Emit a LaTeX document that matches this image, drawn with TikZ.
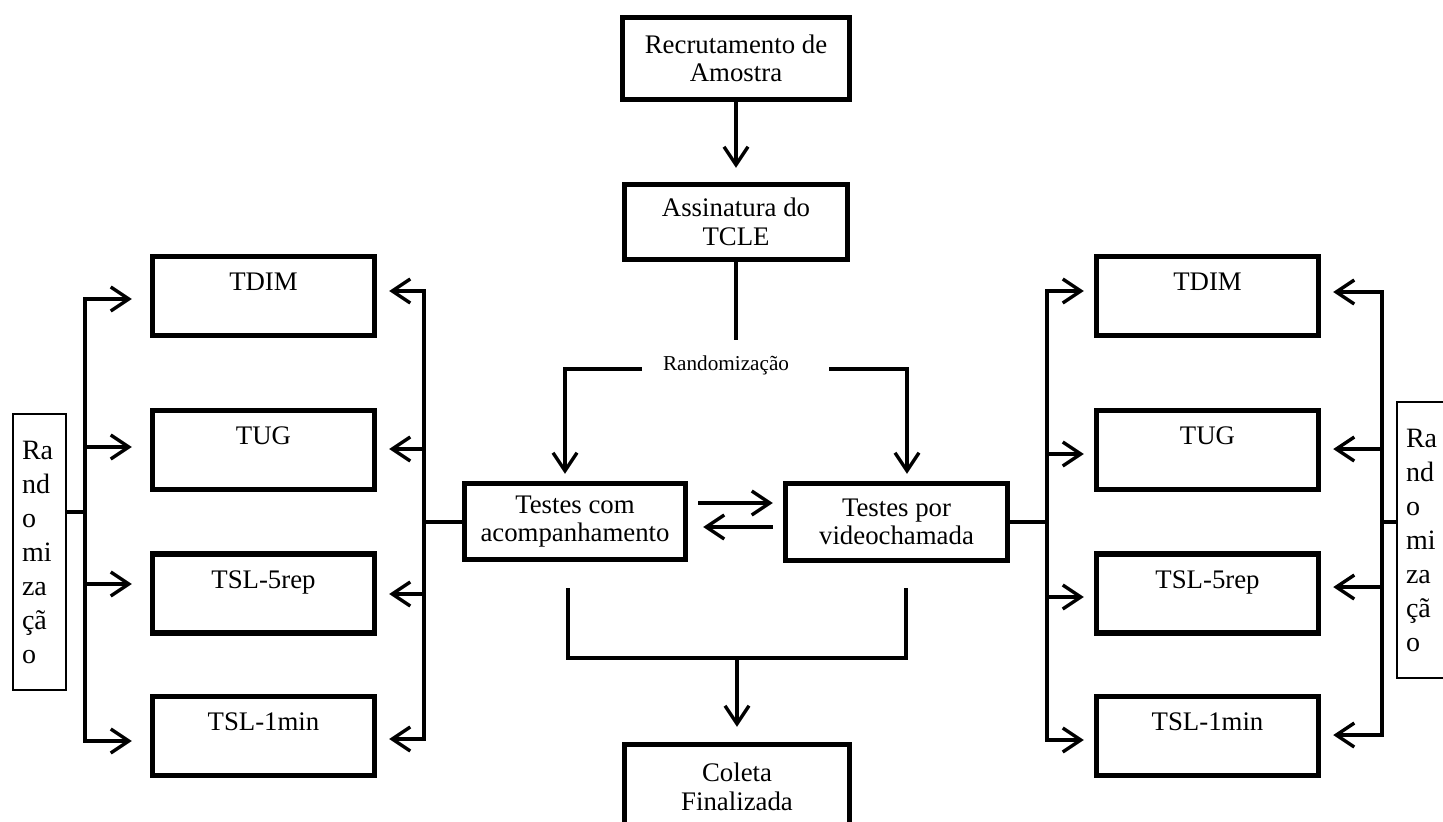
\documentclass[tikz,border=0pt]{standalone}
\usepackage{fontspec}
\setmainfont{Liberation Serif}
\usetikzlibrary{arrows.meta}
\begin{document}
\begin{tikzpicture}[x=0.5pt,y=-0.5pt,
  flowbox/.style={draw, line width=2.7pt, align=center, inner sep=0pt,
    font=\fontsize{13.4}{14.2}\selectfont},
  testbox/.style={flowbox, minimum width=111pt, minimum height=39.5pt},
  randbox/.style={draw, line width=1.1pt, minimum width=26.5pt, minimum height=138pt,
    text width=17.5pt, inner xsep=4.5pt, inner ysep=0pt, align=left,
    font=\fontsize{14}{17}\selectfont},
  conn/.style={line width=1.7pt},
  arr/.style={conn, -{Straight Barb[length=9pt,width=12pt]}},
]
\useasboundingbox (0,0) rectangle (1443,821);

% central flow
\node[flowbox, minimum width=113.5pt, minimum height=41pt] (rec) at (736,58.5) {Recrutamento de\\Amostra};
\node[flowbox, minimum width=111.5pt, minimum height=37.5pt] (ass) at (736,222) {Assinatura do\\TCLE};
\node[font=\fontsize{10.6}{12}\selectfont] (rnd) at (726,365) {Randomização};
\node[flowbox, minimum width=110.5pt, minimum height=38pt] (ta) at (575,521.5) {Testes com\\acompanhamento};
\node[flowbox, minimum width=111pt, minimum height=38.5pt] (tv) at (896.5,522) {Testes por\\videochamada};
\node[flowbox, minimum width=112.5pt, minimum height=42.5pt] (col) at (737,787) {Coleta\\Finalizada};

% left column of tests
\node[testbox] (l1) at (263.5,296) {TDIM\\\mbox{}};
\node[testbox] (l2) at (263.5,450) {TUG\\\mbox{}};
\node[testbox] (l3) at (263.5,593.5) {TSL-5rep\\\mbox{}};
\node[testbox] (l4) at (263.5,736) {TSL-1min\\\mbox{}};

% right column of tests
\node[testbox] (r1) at (1207.5,296) {TDIM\\\mbox{}};
\node[testbox] (r2) at (1207.5,450) {TUG\\\mbox{}};
\node[testbox] (r3) at (1207.5,593.5) {TSL-5rep\\\mbox{}};
\node[testbox] (r4) at (1207.5,736) {TSL-1min\\\mbox{}};

% side randomisation boxes
\node[randbox] (rl) at (39.5,552) {Ra\\nd\\o\\mi\\za\\çã\\o};
\node[randbox] (rr) at (1423.5,540) {Ra\\nd\\o\\mi\\za\\çã\\o};

% top of the flow
\draw[arr, shorten >=7pt] (rec) -- (ass);
\coordinate (rtop) at (736,340);
\draw[conn] (ass) -- (rtop);

% randomisation branches
\coordinate (bl1) at (642,369);
\coordinate (bl2) at (565,369);
\coordinate (br1) at (829,369);
\coordinate (br2) at (907,369);
\draw[arr, shorten >=3.5pt] (bl1) -- (bl2) -- (bl2 |- ta.north);
\draw[arr, shorten >=3.5pt] (br1) -- (br2) -- (br2 |- tv.north);

% crossover between the two arms
\draw[arr, shorten <=5pt, shorten >=5pt] (ta.east |- 0,503) -- (tv.west |- 0,503);
\draw[arr, shorten <=5pt, shorten >=7.5pt] (tv.west |- 0,527) -- (ta.east |- 0,527);

% merge towards the end
\coordinate (ba) at (568,588);
\coordinate (bb) at (568,658);
\coordinate (bc) at (906,658);
\coordinate (bd) at (906,588);
\coordinate (bm) at (737,658);
\draw[conn] (ba) -- (bb) -- (bc) -- (bd);
\draw[arr, shorten >=7.5pt] (bm) -- (col);

% left side: outer bus from the randomisation box
\coordinate (lb1) at (85,299);
\coordinate (lb2) at (85,447);
\coordinate (lb3) at (85,584);
\coordinate (lb4) at (85,741);
\coordinate (lbr) at (85,512);
\draw[conn] (rl.east |- lbr) -- (lbr);
\draw[arr, shorten >=9pt] (lbr) -- (lb1) -- (l1.west |- lb1);
\draw[arr, shorten >=9pt] (lbr) -- (lb4) -- (l4.west |- lb4);
\draw[arr, shorten >=9pt] (lb2) -- (l2.west |- lb2);
\draw[arr, shorten >=9pt] (lb3) -- (l3.west |- lb3);

% left side: inner bus from the in-person arm
\coordinate (lc1) at (424,291);
\coordinate (lc2) at (424,449);
\coordinate (lc3) at (424,594);
\coordinate (lc4) at (424,739);
\coordinate (lcm) at (424,522);
\draw[conn] (ta.west |- lcm) -- (lcm);
\draw[arr, shorten >=6pt] (lcm) -- (lc1) -- (l1.east |- lc1);
\draw[arr, shorten >=6pt] (lcm) -- (lc4) -- (l4.east |- lc4);
\draw[arr, shorten >=6pt] (lc2) -- (l2.east |- lc2);
\draw[arr, shorten >=6pt] (lc3) -- (l3.east |- lc3);

% right side: inner bus from the video-call arm
\coordinate (rc1) at (1047,291);
\coordinate (rc2) at (1047,454);
\coordinate (rc3) at (1047,597);
\coordinate (rc4) at (1047,740);
\coordinate (rcm) at (1047,522);
\draw[conn] (tv.east |- rcm) -- (rcm);
\draw[arr, shorten >=5pt] (rcm) -- (rc1) -- (r1.west |- rc1);
\draw[arr, shorten >=5pt] (rcm) -- (rc4) -- (r4.west |- rc4);
\draw[arr, shorten >=5pt] (rc2) -- (r2.west |- rc2);
\draw[arr, shorten >=5pt] (rc3) -- (r3.west |- rc3);

% right side: outer bus from the randomisation box
\coordinate (rd1) at (1382,292);
\coordinate (rd2) at (1382,449);
\coordinate (rd3) at (1382,587);
\coordinate (rd4) at (1382,735);
\coordinate (rdm) at (1382,522);
\draw[conn] (rdm) -- (rr.west |- rdm);
\draw[arr, shorten >=6pt] (rdm) -- (rd1) -- (r1.east |- rd1);
\draw[arr, shorten >=6pt] (rdm) -- (rd4) -- (r4.east |- rd4);
\draw[arr, shorten >=6pt] (rd2) -- (r2.east |- rd2);
\draw[arr, shorten >=6pt] (rd3) -- (r3.east |- rd3);
\end{tikzpicture}
\end{document}
